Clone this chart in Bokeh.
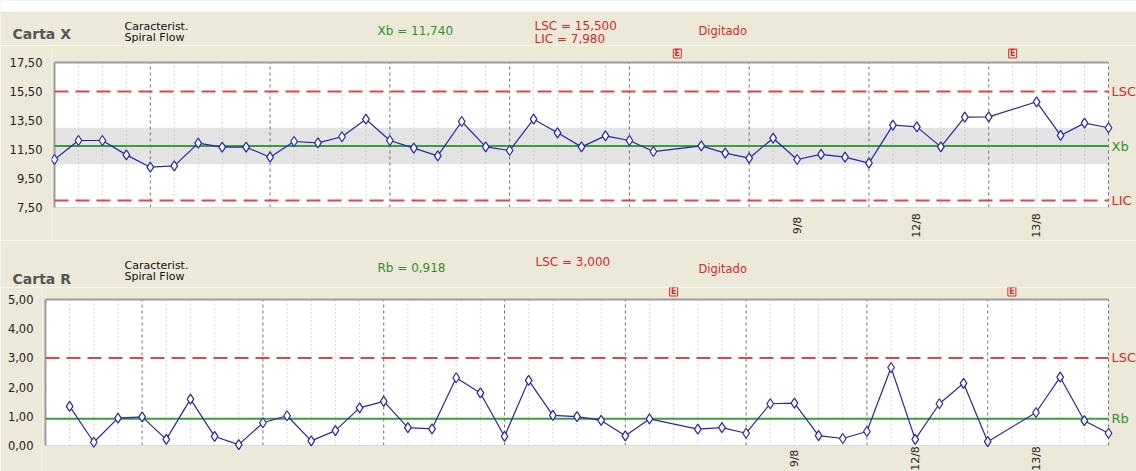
import math
from bokeh.plotting import figure
from bokeh.layouts import column
from bokeh.models import Range1d, FixedTicker, BoxAnnotation
from bokeh.core.properties import value
from bokeh.embed import file_html
from bokeh.resources import INLINE

# ---------------- data ----------------
samples = list(range(45))
x_values = [10.81, 12.12, 12.12, 11.13, 10.28, 10.37, 11.94, 11.66, 11.66, 10.97,
            12.05, 11.96, 12.38, 13.59, 12.12, 11.59, 11.06, 13.43, 11.68, 11.43,
            13.59, 12.65, 11.68, 12.44, 12.12, 11.36, None, 11.75, 11.25, 10.90,
            12.28, 10.81, 11.16, 10.97, 10.56, 13.18, 13.06, 11.68, 13.73, 13.75,
            None, 14.79, 12.47, 13.32, 13.00]
r_values = [None, 1.34, 0.11, 0.94, 0.98, 0.21, 1.59, 0.31, 0.03, 0.78,
            1.02, 0.16, 0.51, 1.29, 1.51, 0.61, 0.57, 2.32, 1.80, 0.31,
            2.23, 1.03, 0.99, 0.86, 0.33, 0.91, None, 0.56, 0.61, 0.42,
            1.43, 1.45, 0.34, 0.24, 0.48, 2.67, 0.21, 1.43, 2.13, 0.13,
            None, 1.13, 2.34, 0.85, 0.42]
event_samples = [26, 40]
date_samples = [31, 36, 41]
date_labels = ["9/8", "12/8", "13/8"]

xb, x_lsc, x_lic = 11.740, 15.500, 7.980
rb, r_lsc = 0.918, 3.000
x_ticks = [7.5, 9.5, 11.5, 13.5, 15.5, 17.5]
r_ticks = [0, 1, 2, 3, 4, 5]
major_samples = [4, 9, 14, 19, 24, 29, 34, 39, 44]

# ---------------- style ----------------
BEIGE = "#ece9d8"
RED = "#d42a2a"
RED_LINE = "#d9484c"
GREEN = "#2f8f2f"
GREEN_LINE = "#3c9c3c"
BLUE = "#2626b0"
FONT = "DejaVu Sans"
FIG_W = 1136


def fmt(v, nd=2):
    return f"{v:.{nd}f}".replace(".", ",")


def txt(p, x, y, text, color="#111111", size="11px", style="normal", align="left",
        baseline="alphabetic", **kw):
    p.text(x=[x], y=[y], text=[text], text_color=color, text_font=value(FONT),
           text_font_size=size, text_font_style=style, text_align=align,
           text_baseline=baseline, **kw)


def header_fig(top, bottom):
    p = figure(width=FIG_W, height=bottom - top, x_range=Range1d(0, FIG_W),
               y_range=Range1d(bottom, top), x_axis_type=None, y_axis_type=None,
               output_backend="svg", toolbar_location=None, min_border=0,
               background_fill_color=BEIGE, border_fill_color=BEIGE,
               outline_line_color=None, frame_align=False)
    p.grid.visible = False
    return p


def chart_fig(fig_top, fig_bottom, frame_left, plot_l, plot_r, plot_t, plot_b, ticks):
    s = (plot_r - plot_l) / (samples[-1] - samples[0])
    ppu = (plot_b - plot_t) / (ticks[-1] - ticks[0])
    xr = Range1d(samples[0] - (plot_l - frame_left) / s,
                 samples[-1] + (FIG_W - plot_r) / s)
    yr = Range1d(ticks[0] - (fig_bottom - plot_b) / ppu,
                 ticks[-1] + (plot_t - fig_top) / ppu)
    p = figure(width=FIG_W, height=fig_bottom - fig_top, x_range=xr, y_range=yr,
               x_axis_type=None, output_backend="svg", toolbar_location=None,
               min_border=0, min_border_left=frame_left,
               background_fill_color=BEIGE, border_fill_color=BEIGE,
               outline_line_color=None, frame_align=False)
    p.extra_y_ranges = {"py": Range1d(fig_bottom, fig_top)}
    p.grid.visible = False
    ya = p.yaxis[0]
    ya.ticker = FixedTicker(ticks=ticks)
    ya.major_label_overrides = {t: fmt(t) for t in ticks}
    ya.major_tick_line_color = None
    ya.minor_tick_line_color = None
    ya.axis_line_color = None
    ya.major_label_standoff = 3
    ya.major_label_text_font = FONT
    ya.major_label_text_font_size = "11.5px"
    ya.major_label_text_color = "#222222"
    lo, hi = ticks[0], ticks[-1]
    x0, x1 = samples[0], samples[-1]
    p.add_layout(BoxAnnotation(left=x0, right=x1, bottom=lo, top=hi, fill_color="white",
                               fill_alpha=1, line_color=None, level="underlay"))
    return p


def add_grid_and_frame(p, ticks):
    lo, hi = ticks[0], ticks[-1]
    x0, x1 = samples[0], samples[-1]
    minor = [s for s in samples if s not in major_samples]
    p.segment(x0=minor, y0=[lo] * len(minor), x1=minor, y1=[hi] * len(minor),
              line_color="#b4b4b4", line_dash="1 3", line_width=1)
    p.segment(x0=major_samples, y0=[lo] * len(major_samples), x1=major_samples,
              y1=[hi] * len(major_samples), line_color="#6e6e6e", line_dash="3 3",
              line_width=1)
    p.line([x0, x1], [lo, lo], line_color="#dadada", line_width=1)
    p.line([x0, x1], [hi, hi], line_color="#9c9c9c", line_width=2)
    p.line([x0, x0], [lo, hi], line_color="#9c9c9c", line_width=2)


def hline(p, y, color, dash="solid"):
    p.line([samples[0], samples[-1]], [y, y], line_color=color, line_width=2,
           line_dash=dash)


def add_series(p, vals):
    xs = [s for s, v in zip(samples, vals) if v is not None]
    ys = [v for v in vals if v is not None]
    p.line(xs, ys, line_color=BLUE, line_width=1.2)
    p.scatter(xs, ys, marker="diamond", size=10, line_color=BLUE, fill_color="white",
              line_width=1.2)


def add_side_label(p, y, text, color):
    txt(p, samples[-1], y, text, color=color, size="13px", baseline="middle", x_offset=3)


def add_events(p, py):
    n = len(event_samples)
    p.rect(x=event_samples, y=[py] * n, width=8, height=9, width_units="screen",
           height_units="screen", fill_color=None, line_color=RED, line_width=1,
           y_range_name="py")
    p.text(x=event_samples, y=[py] * n, text=["E"] * n, text_color=RED,
           text_font=value(FONT), text_font_size="8px", text_font_style="bold",
           text_align="center", text_baseline="middle", y_range_name="py")


def add_dates(p, py):
    n = len(date_samples)
    p.text(x=date_samples, y=[py] * n, text=date_labels, angle=math.pi / 2,
           text_align="center", text_baseline="middle", text_font=value(FONT),
           text_font_size="11px", text_color="#222222", y_range_name="py")


# ---------------- header X ----------------
hx = header_fig(0, 45)
hx.add_layout(BoxAnnotation(top=0, bottom=11, fill_color="white", fill_alpha=1,
                            line_color=None))
txt(hx, 12, 33.3, "Carta X", color="#555555", size="14px", style="bold")
txt(hx, 124, 26, "Caracterist.")
txt(hx, 124, 36.7, "Spiral Flow")
txt(hx, 377, 30.5, "Xb = " + fmt(xb, 3), color=GREEN, size="12px")
txt(hx, 534, 25.3, "LSC = " + fmt(x_lsc, 3), color=RED, size="12px")
txt(hx, 534, 38.3, "LIC = " + fmt(x_lic, 3), color=RED, size="12px")
txt(hx, 698, 30.7, "Digitado", color=RED, size="11.5px")

# ---------------- X chart ----------------
px = chart_fig(45, 240, 51, 54, 1108, 62, 207, x_ticks)
sigma = (x_lsc - xb) / 3
px.add_layout(BoxAnnotation(left=samples[0], right=samples[-1], bottom=xb - sigma,
                            top=xb + sigma, fill_color="#e3e3e3", fill_alpha=1,
                            line_color=None, level="underlay"))
add_grid_and_frame(px, x_ticks)
hline(px, x_lsc, RED_LINE, "14 7")
hline(px, x_lic, RED_LINE, "14 7")
hline(px, xb, GREEN_LINE)
add_series(px, x_values)
add_side_label(px, x_lsc, "LSC", RED)
add_side_label(px, xb, "Xb", GREEN)
add_side_label(px, x_lic, "LIC", RED)
add_events(px, 53)
add_dates(px, 225)

# ---------------- header R ----------------
hr = header_fig(240, 287)
txt(hr, 12, 278, "Carta R", color="#555555", size="14px", style="bold")
txt(hr, 124, 264.5, "Caracterist.")
txt(hr, 124, 276, "Spiral Flow")
txt(hr, 377, 267, "Rb = " + fmt(rb, 3), color=GREEN, size="12px")
txt(hr, 535, 261.7, "LSC = " + fmt(r_lsc, 3), color=RED, size="12px")
txt(hr, 698, 268, "Digitado", color=RED, size="11.5px")

# ---------------- R chart ----------------
pr = chart_fig(287, 471, 42, 45, 1108, 299, 445, r_ticks)
add_grid_and_frame(pr, r_ticks)
hline(pr, r_lsc, RED_LINE, "14 7")
hline(pr, rb, GREEN_LINE)
add_series(pr, r_values)
add_side_label(pr, r_lsc, "LSC", RED)
add_side_label(pr, rb, "Rb", GREEN)
add_events(pr, 291)
add_dates(pr, 458)

layout = column(hx, px, hr, pr, spacing=0)
open("out.html", "w").write(file_html(layout, INLINE))
